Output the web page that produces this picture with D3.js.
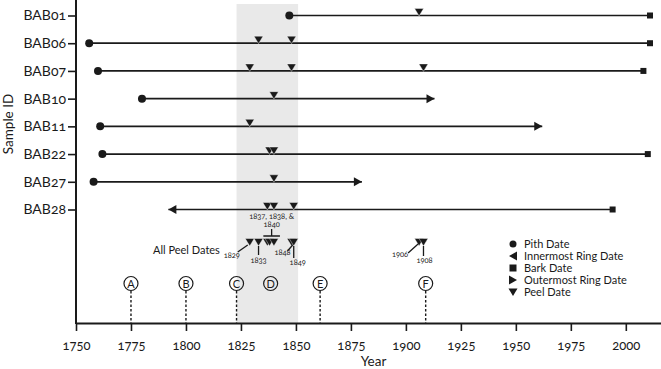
<!DOCTYPE html>
<html>
<head>
<meta charset="utf-8">
<script src="https://cdn.jsdelivr.net/npm/d3@7"></script>
<style>
  body { margin: 0; background: #fff; }
  text { font-family: Lato, "Open Sans", sans-serif; font-variant-numeric: oldstyle-nums; fill: #1a1a1a; }
</style>
</head>
<body>
<script>
// sample data
var samples   = ["BAB01", "BAB06", "BAB07", "BAB10", "BAB11", "BAB22", "BAB27", "BAB28"];
var pith      = [1847, 1756, 1760, 1780, 1761, 1762, 1758, null];
var innermost = [null, null, null, null, null, null, null, 1792];
var bark      = [2011, 2011, 2008, null, null, 2010, null, 1994];
var outermost = [null, null, null, 1913, 1962, null, 1880, null];
var peel      = [[1906], [1833, 1848], [1829, 1848, 1908], [1840], [1829], [1838, 1840], [1840], [1837, 1840, 1849]];

var allPeelDates = [1829, 1833, 1837, 1838, 1840, 1848, 1849, 1906, 1908];
var events     = ["A", "B", "C", "D", "E", "F"];
var eventYears = [1775, 1800, 1823, 1838.5, 1861, 1909];
var shadeYears = [1823, 1851];
var tickYears  = [1750, 1775, 1800, 1825, 1850, 1875, 1900, 1925, 1950, 1975, 2000];
var legendItems = ["Pith Date", "Innermost Ring Date", "Bark Date", "Outermost Ring Date", "Peel Date"];

// label placement for the "All Peel Dates" row (offsets from each marker)
var noteLayout = {
    1829: {tx: -18, ty: 12, l: [-12, 6, -2, -1]},
    1833: {tx: 0, ty: 17, l: [0, 0, 0, 9]},
    1848: {tx: -9, ty: 9, l: [-4, 5, 2, -2]},
    1849: {tx: 4, ty: 19, l: [0, 0, 0, 12]},
    1906: {tx: -19, ty: 11, l: [-11, 7, -1, -2]},
    1908: {tx: 1, ty: 17, l: [0, 0, 0, 10]}
};

var W = 661, H = 369;
var axisY = 323, left = 76, rowY = 246;
var ink = "#1a1a1a";

var svg = d3.select("body")
    .append("svg")
    .attr("width", W)
    .attr("height", H);

var x = d3.scaleLinear().domain([1750, 2016]).range([left, W]);
var y = d3.scalePoint().domain(samples).range([15.5, 209.5]);

// shaded period
svg.append("rect")
    .attr("x", x(shadeYears[0]))
    .attr("y", 4)
    .attr("width", x(shadeYears[1]) - x(shadeYears[0]))
    .attr("height", axisY - 4)
    .attr("fill", "#e9e9e9");

// shapes
function tri(cx, cy, dir) {
    // tip at (cx, cy)
    if (dir == "down") return "M" + (cx - 4.5) + "," + (cy - 7.5) + "L" + (cx + 4.5) + "," + (cy - 7.5) + "L" + cx + "," + cy + "Z";
    if (dir == "right") return "M" + (cx - 8) + "," + (cy - 4.5) + "L" + (cx - 8) + "," + (cy + 4.5) + "L" + cx + "," + cy + "Z";
    return "M" + (cx + 8) + "," + (cy - 4.5) + "L" + (cx + 8) + "," + (cy + 4.5) + "L" + cx + "," + cy + "Z";
}

var rows = svg.append("g");
samples.forEach(function (s, i) {
    var yy = y(s);
    var start = pith[i] != null ? pith[i] : innermost[i];
    var end = bark[i] != null ? bark[i] : outermost[i];

    rows.append("line")
        .attr("x1", x(start)).attr("x2", x(end))
        .attr("y1", yy).attr("y2", yy)
        .attr("stroke", ink)
        .attr("stroke-width", 1.7);

    if (pith[i] != null)
        rows.append("circle").attr("cx", x(pith[i])).attr("cy", yy).attr("r", 4).attr("fill", ink);
    if (innermost[i] != null)
        rows.append("path").attr("d", tri(x(innermost[i]), yy, "left")).attr("fill", ink);
    if (bark[i] != null)
        rows.append("rect").attr("x", x(bark[i]) - 3).attr("y", yy - 3).attr("width", 6).attr("height", 6).attr("fill", ink);
    if (outermost[i] != null)
        rows.append("path").attr("d", tri(x(outermost[i]), yy, "right")).attr("fill", ink);

    peel[i].forEach(function (p) {
        rows.append("path")
            .attr("d", tri(x(p), yy + 0.5, "down"))
            .attr("fill", ink)
            .attr("stroke", "#fff")
            .attr("stroke-width", 0.4);
    });
});

// all peel dates row
svg.append("text")
    .attr("x", 153)
    .attr("y", rowY + 8)
    .attr("font-size", 11)
    .text("All Peel Dates");

allPeelDates.forEach(function (p) {
    svg.append("path")
        .attr("d", tri(x(p), rowY, "down"))
        .attr("fill", ink)
        .attr("stroke", "#fff")
        .attr("stroke-width", 0.4);
    var n = noteLayout[p];
    if (!n) return;
    svg.append("line")
        .attr("x1", x(p) + n.l[0]).attr("y1", rowY + n.l[1])
        .attr("x2", x(p) + n.l[2]).attr("y2", rowY + n.l[3])
        .attr("stroke", ink).attr("stroke-width", 1.3);
    svg.append("text")
        .attr("x", x(p) + n.tx)
        .attr("y", rowY + n.ty)
        .attr("text-anchor", "middle")
        .attr("font-size", 7.5)
        .text(p);
});

// bracket for the grouped dates
var bx0 = x(allPeelDates[2]) - 4, bx1 = x(allPeelDates[4]) + 6, bmid = (bx0 + bx1) / 2;
svg.append("path")
    .attr("d", "M" + bx0 + "," + (rowY - 10) + "H" + bx1 + "M" + bmid + "," + (rowY - 10) + "V" + (rowY - 17))
    .attr("fill", "none").attr("stroke", ink).attr("stroke-width", 1.3);
svg.append("text")
    .attr("x", bmid).attr("y", rowY - 27.5)
    .attr("text-anchor", "middle").attr("font-size", 7.5)
    .text(allPeelDates[2] + ", " + allPeelDates[3] + ", &");
svg.append("text")
    .attr("x", bmid).attr("y", rowY - 19)
    .attr("text-anchor", "middle").attr("font-size", 7.5)
    .text(allPeelDates[4]);

// event markers
var ev = svg.append("g");
events.forEach(function (e, i) {
    var ex = x(eventYears[i]);
    if (e != "D")
        ev.append("line")
            .attr("x1", ex).attr("x2", ex)
            .attr("y1", 291).attr("y2", axisY)
            .attr("stroke", ink).attr("stroke-width", 1.4)
            .attr("stroke-dasharray", "2.5,2");
    ev.append("circle")
        .attr("cx", ex).attr("cy", 283.5).attr("r", 7)
        .attr("fill", "none").attr("stroke", ink).attr("stroke-width", 1.2);
    ev.append("text")
        .attr("x", ex).attr("y", 287.5)
        .attr("text-anchor", "middle").attr("font-size", 11)
        .text(e);
});

// legend
var lg = svg.append("g").attr("transform", "translate(513,244)");
legendItems.forEach(function (d, i) {
    var ly = i * 12;
    if (i == 0) lg.append("circle").attr("cx", 0).attr("cy", ly).attr("r", 3.5).attr("fill", ink);
    if (i == 1) lg.append("path").attr("d", tri(-4, ly, "left")).attr("fill", ink);
    if (i == 2) lg.append("rect").attr("x", -3.5).attr("y", ly - 3.5).attr("width", 7).attr("height", 7).attr("fill", ink);
    if (i == 3) lg.append("path").attr("d", tri(4, ly, "right")).attr("fill", ink);
    if (i == 4) lg.append("path").attr("d", tri(0, ly + 4, "down")).attr("fill", ink);
    lg.append("text")
        .attr("x", 11).attr("y", ly + 4)
        .attr("font-size", 11)
        .text(d);
});

// axes
var xAxis = svg.append("g")
    .attr("transform", "translate(0," + axisY + ")")
    .call(d3.axisBottom(x).tickValues(tickYears).tickFormat(d3.format("d")).tickSize(8).tickSizeOuter(0).tickPadding(10));
xAxis.select(".domain").attr("stroke", ink).attr("stroke-width", 2);
xAxis.selectAll(".tick line").attr("stroke", ink).attr("stroke-width", 1.6);
xAxis.selectAll(".tick text").attr("font-size", 13).attr("font-family", null).attr("fill", ink);

var yAxis = svg.append("g")
    .attr("transform", "translate(" + left + ",0)")
    .call(d3.axisLeft(y).tickSize(8).tickPadding(2));
yAxis.select(".domain").remove();
yAxis.selectAll(".tick line").attr("stroke", ink).attr("stroke-width", 1.6);
yAxis.selectAll(".tick text").attr("font-size", 14).attr("font-family", null).attr("fill", ink);
svg.append("line")
    .attr("x1", left).attr("x2", left)
    .attr("y1", 0).attr("y2", axisY + 1)
    .attr("stroke", ink).attr("stroke-width", 2);

svg.append("text")
    .attr("x", (left + W) / 2 + 5)
    .attr("y", 366)
    .attr("text-anchor", "middle")
    .attr("font-size", 13.5)
    .text("Year");

svg.append("text")
    .attr("transform", "translate(13,124) rotate(-90)")
    .attr("text-anchor", "middle")
    .attr("font-size", 13.5)
    .text("Sample ID");
</script>
</body>
</html>
